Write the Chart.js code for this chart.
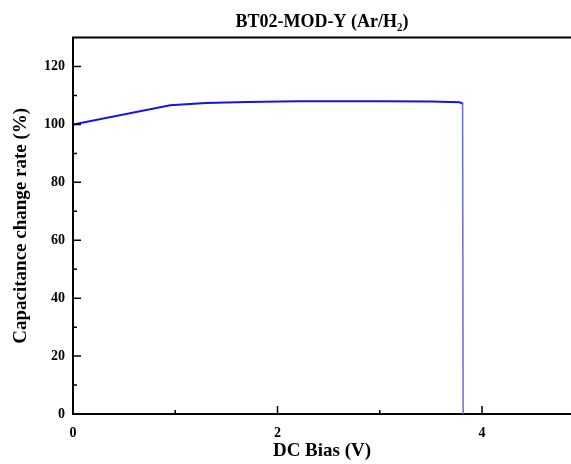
<!DOCTYPE html>
<html>
<head>
<meta charset="utf-8">
<script src="https://cdn.jsdelivr.net/npm/chart.js@4/dist/chart.umd.min.js"></script>
<style>
  body { margin: 0; background: #fff; }
  canvas { display: block; }
</style>
</head>
<body>
<canvas id="myChart" width="571" height="464"></canvas>
<script>
// DC bias sweep (V) and capacitance change rate (%)
const biasV = [0, 0.95, 1.3, 1.7, 2.2, 3.0, 3.5, 3.78, 3.80, 3.81, 3.815];
const rateP = [100, 106.6, 107.4, 107.8, 108.0, 108.0, 107.9, 107.7, 107.3, 107.6, 0];
const xMajor = [0, 2, 4];
const xMinor = [1, 3];
const yMajor = [0, 20, 40, 60, 80, 100, 120];
const yMinor = [10, 30, 50, 70, 90, 110];

const puntos = biasV.map((v, i) => ({ x: v, y: rateP[i] }));
const serif = "'Liberation Serif', 'Times New Roman', serif";

// ticks hacia adentro + borde superior
const marcos = {
    id: 'marcos',
    afterDraw(chart) {
        const ctx = chart.ctx;
        const area = chart.chartArea;
        const sx = chart.scales.x;
        const sy = chart.scales.y;
        ctx.save();
        ctx.strokeStyle = '#000';
        ctx.lineWidth = 2;
        ctx.beginPath();
        ctx.moveTo(area.left - 1, area.top);
        ctx.lineTo(area.right, area.top);
        ctx.stroke();
        ctx.lineWidth = 1.5;
        ctx.beginPath();
        xMajor.forEach(v => { const p = sx.getPixelForValue(v); ctx.moveTo(p, area.bottom); ctx.lineTo(p, area.bottom - 8); });
        xMinor.forEach(v => { const p = sx.getPixelForValue(v); ctx.moveTo(p, area.bottom); ctx.lineTo(p, area.bottom - 4); });
        yMajor.forEach(v => { const p = sy.getPixelForValue(v); ctx.moveTo(area.left, p); ctx.lineTo(area.left + 8, p); });
        yMinor.forEach(v => { const p = sy.getPixelForValue(v); ctx.moveTo(area.left, p); ctx.lineTo(area.left + 4, p); });
        ctx.stroke();
        ctx.restore();
    }
};

const ctx = document.getElementById('myChart').getContext('2d');
const myChart = new Chart(ctx, {
    type: 'scatter',
    data: {
        datasets: [{
            data: puntos,
            showLine: true,
            borderColor: '#1414e6',
            borderWidth: 2,
            pointRadius: 0,
            fill: false,
            segment: {
                borderColor: c => c.p1DataIndex === puntos.length - 1 ? '#6a6ad8' : undefined,
                borderWidth: c => c.p1DataIndex === puntos.length - 1 ? 1.5 : undefined
            }
        }]
    },
    options: {
        responsive: false,
        animation: false,
        layout: { padding: { left: 0, right: 0, top: 0, bottom: 0 } },
        plugins: {
            legend: { display: false },
            tooltip: { enabled: false },
            title: {
                display: true,
                fullSize: false,
                text: 'BT02-MOD-Y (Ar/H\u2082)',
                color: '#000',
                font: { family: serif, size: 18, weight: 'bold' },
                padding: { top: 12, bottom: 4 }
            }
        },
        scales: {
            x: {
                type: 'linear',
                min: 0,
                max: 4.87,
                afterBuildTicks: s => { s.ticks = xMajor.map(v => ({ value: v })); },
                afterFit: s => { s.height = 50; },
                grid: { display: false, drawTicks: false },
                border: { display: true, color: '#000', width: 2 },
                ticks: {
                    color: '#000',
                    padding: 11,
                    maxRotation: 0,
                    font: { family: serif, size: 14, weight: 'bold' }
                },
                title: {
                    display: true,
                    text: 'DC Bias (V)',
                    color: '#000',
                    font: { family: serif, size: 19, weight: 'bold' },
                    padding: { top: 0, bottom: 2 }
                }
            },
            y: {
                min: 0,
                max: 130,
                afterBuildTicks: s => { s.ticks = yMajor.map(v => ({ value: v })); },
                afterFit: s => { s.width = 73; },
                grid: { display: false, drawTicks: false },
                border: { display: true, color: '#000', width: 2 },
                ticks: {
                    color: '#000',
                    padding: 8,
                    font: { family: serif, size: 14, weight: 'bold' }
                },
                title: {
                    display: true,
                    text: 'Capacitance change rate (%)',
                    color: '#000',
                    font: { family: serif, size: 19, weight: 'bold' },
                    padding: { top: 10, bottom: 0 }
                }
            }
        }
    },
    plugins: [marcos]
});
</script>
</body>
</html>
